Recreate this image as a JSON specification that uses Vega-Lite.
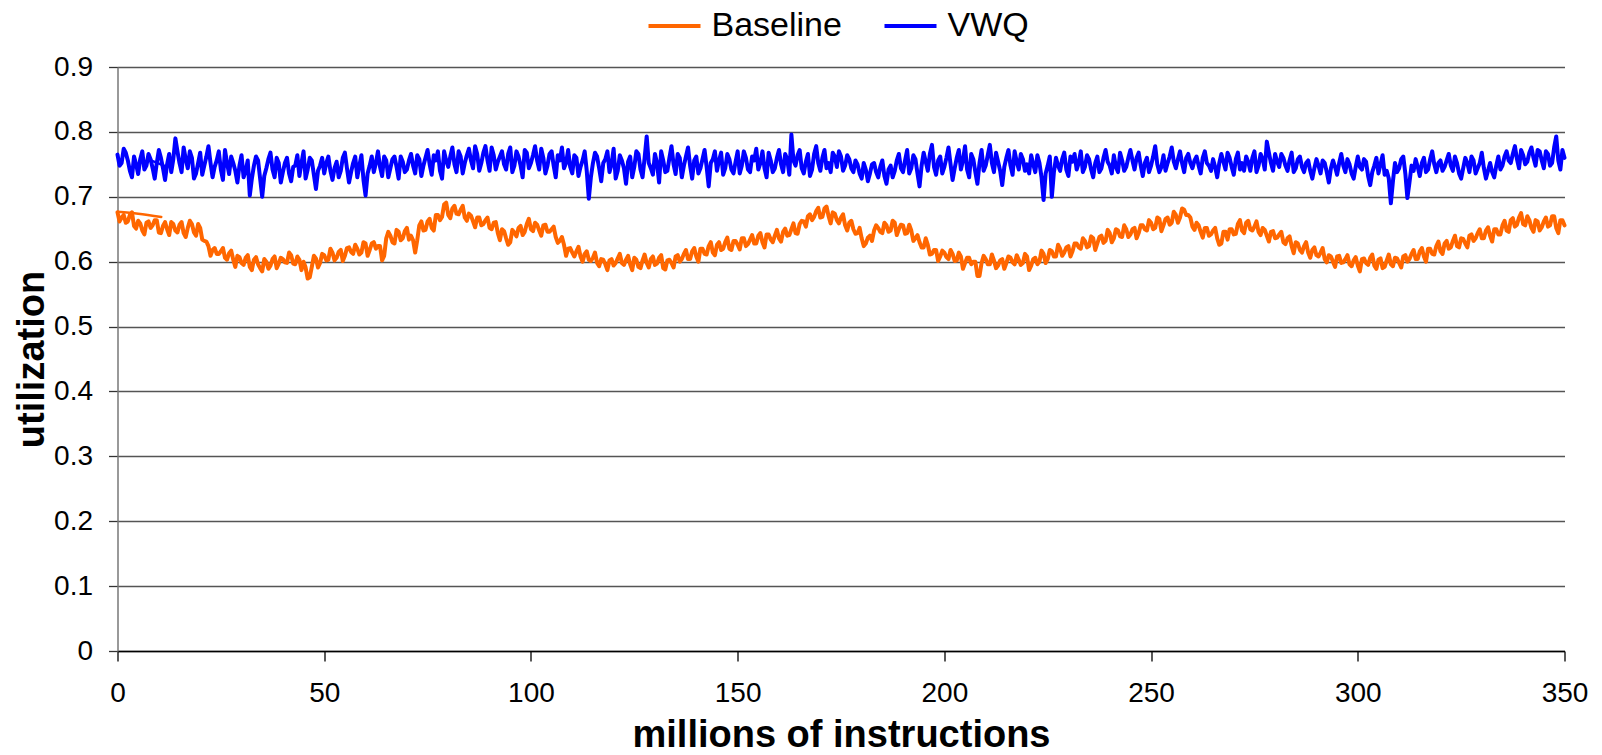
{
 "$schema": "https://vega.github.io/schema/vega-lite/v6.json",
 "width": 1447, "height": 584,
 "autosize": {"type": "none"},
 "padding": {"left": 117.5, "top": 67, "right": 37.5, "bottom": 104},
 "background": "white",
 "config": {"view": {"stroke": null}, "font": "Liberation Sans"},
 "encoding": {
  "x": {"field": "x", "type": "quantitative",
   "scale": {"domain": [0, 350], "nice": false},
   "axis": {"values": [0,50,100,150,200,250,300,350], "grid": false,
    "title": "millions of instructions", "titleFontSize": 38, "titleFontWeight": "bold", "titleColor": "#000", "titlePadding": 9,
    "labelFontSize": 28, "labelColor": "#000", "labelPadding": 18, "labelFlush": false,
    "tickSize": 10, "tickColor": "#000", "tickWidth": 1.3, "domainColor": "#000", "domainWidth": 1.5}},
  "y": {"field": "value", "type": "quantitative",
   "scale": {"domain": [0, 0.9], "nice": false, "zero": false},
   "axis": {"values": [0,0.1,0.2,0.3,0.4,0.5,0.6,0.7,0.8,0.9], "format": ".1~f",
    "grid": true, "gridColor": "#555", "gridWidth": 1.3,
    "domainColor": "#777", "domainWidth": 1.5, "tickColor": "#333", "tickSize": 9, "tickWidth": 1.3,
    "labelPadding": 16, "labelFontSize": 28, "labelColor": "#000",
    "title": "utilization", "titleFontSize": 38, "titleFontWeight": "bold", "titleColor": "#000", "titlePadding": 2}},
  "color": {"field": "series", "type": "nominal",
   "scale": {"domain": ["Baseline", "VWQ"], "range": ["#FF6600", "#0000FF"]},
   "legend": {"orient": "none", "legendX": 529, "legendY": -69, "direction": "horizontal", "title": null,
    "symbolType": "stroke", "symbolSize": 2704, "symbolStrokeWidth": 4,
    "labelFontSize": 34, "labelColor": "#000", "labelOffset": 9, "columnPadding": 34, "padding": 0}}
 },
 "layer": [
  {
   "data": {"values": [
{"x":0,"Baseline":0.676,"VWQ":0.765},{"x":1,"Baseline":0.668,"VWQ":0.752},{"x":2,"Baseline":0.660,"VWQ":0.768},{"x":3,"Baseline":0.672,"VWQ":0.740},{"x":4,"Baseline":0.655,"VWQ":0.762},{"x":5,"Baseline":0.663,"VWQ":0.735},{"x":6,"Baseline":0.648,"VWQ":0.770},{"x":7,"Baseline":0.660,"VWQ":0.748},{"x":8,"Baseline":0.652,"VWQ":0.758},{"x":9,"Baseline":0.664,"VWQ":0.728},
{"x":10,"Baseline":0.645,"VWQ":0.772},{"x":11,"Baseline":0.655,"VWQ":0.744},{"x":12,"Baseline":0.650,"VWQ":0.750},{"x":13,"Baseline":0.661,"VWQ":0.738},{"x":14,"Baseline":0.648,"VWQ":0.790},{"x":15,"Baseline":0.657,"VWQ":0.752},{"x":16,"Baseline":0.644,"VWQ":0.776},{"x":17,"Baseline":0.652,"VWQ":0.744},{"x":18,"Baseline":0.658,"VWQ":0.760},{"x":19,"Baseline":0.640,"VWQ":0.736},
{"x":20,"Baseline":0.652,"VWQ":0.768},{"x":21,"Baseline":0.632,"VWQ":0.748},{"x":22,"Baseline":0.624,"VWQ":0.778},{"x":23,"Baseline":0.618,"VWQ":0.730},{"x":24,"Baseline":0.612,"VWQ":0.756},{"x":25,"Baseline":0.616,"VWQ":0.742},{"x":26,"Baseline":0.606,"VWQ":0.772},{"x":27,"Baseline":0.613,"VWQ":0.735},{"x":28,"Baseline":0.603,"VWQ":0.752},{"x":29,"Baseline":0.609,"VWQ":0.722},
{"x":30,"Baseline":0.598,"VWQ":0.764},{"x":31,"Baseline":0.606,"VWQ":0.740},{"x":32,"Baseline":0.592,"VWQ":0.702},{"x":33,"Baseline":0.603,"VWQ":0.748},{"x":34,"Baseline":0.596,"VWQ":0.756},{"x":35,"Baseline":0.585,"VWQ":0.700},{"x":36,"Baseline":0.600,"VWQ":0.744},{"x":37,"Baseline":0.594,"VWQ":0.768},{"x":38,"Baseline":0.608,"VWQ":0.730},{"x":39,"Baseline":0.597,"VWQ":0.752},
{"x":40,"Baseline":0.604,"VWQ":0.738},{"x":41,"Baseline":0.598,"VWQ":0.760},{"x":42,"Baseline":0.610,"VWQ":0.724},{"x":43,"Baseline":0.596,"VWQ":0.748},{"x":44,"Baseline":0.603,"VWQ":0.732},{"x":45,"Baseline":0.600,"VWQ":0.770},{"x":46,"Baseline":0.574,"VWQ":0.742},{"x":47,"Baseline":0.592,"VWQ":0.756},{"x":48,"Baseline":0.605,"VWQ":0.712},{"x":49,"Baseline":0.598,"VWQ":0.748},
{"x":50,"Baseline":0.610,"VWQ":0.736},{"x":51,"Baseline":0.603,"VWQ":0.762},{"x":52,"Baseline":0.614,"VWQ":0.726},{"x":53,"Baseline":0.606,"VWQ":0.754},{"x":54,"Baseline":0.618,"VWQ":0.740},{"x":55,"Baseline":0.609,"VWQ":0.768},{"x":56,"Baseline":0.622,"VWQ":0.722},{"x":57,"Baseline":0.612,"VWQ":0.752},{"x":58,"Baseline":0.620,"VWQ":0.730},{"x":59,"Baseline":0.614,"VWQ":0.764},
{"x":60,"Baseline":0.628,"VWQ":0.702},{"x":61,"Baseline":0.618,"VWQ":0.748},{"x":62,"Baseline":0.630,"VWQ":0.738},{"x":63,"Baseline":0.624,"VWQ":0.770},{"x":64,"Baseline":0.602,"VWQ":0.732},{"x":65,"Baseline":0.636,"VWQ":0.756},{"x":66,"Baseline":0.640,"VWQ":0.744},{"x":67,"Baseline":0.628,"VWQ":0.762},{"x":68,"Baseline":0.646,"VWQ":0.728},{"x":69,"Baseline":0.636,"VWQ":0.754},
{"x":70,"Baseline":0.652,"VWQ":0.742},{"x":71,"Baseline":0.640,"VWQ":0.766},{"x":72,"Baseline":0.614,"VWQ":0.736},{"x":73,"Baseline":0.656,"VWQ":0.758},{"x":74,"Baseline":0.648,"VWQ":0.748},{"x":75,"Baseline":0.662,"VWQ":0.772},{"x":76,"Baseline":0.652,"VWQ":0.734},{"x":77,"Baseline":0.672,"VWQ":0.756},{"x":78,"Baseline":0.664,"VWQ":0.740},{"x":79,"Baseline":0.688,"VWQ":0.770},
{"x":80,"Baseline":0.672,"VWQ":0.746},{"x":81,"Baseline":0.682,"VWQ":0.776},{"x":82,"Baseline":0.674,"VWQ":0.738},{"x":83,"Baseline":0.680,"VWQ":0.762},{"x":84,"Baseline":0.668,"VWQ":0.752},{"x":85,"Baseline":0.674,"VWQ":0.774},{"x":86,"Baseline":0.662,"VWQ":0.744},{"x":87,"Baseline":0.668,"VWQ":0.766},{"x":88,"Baseline":0.656,"VWQ":0.752},{"x":89,"Baseline":0.664,"VWQ":0.778},
{"x":90,"Baseline":0.652,"VWQ":0.740},{"x":91,"Baseline":0.660,"VWQ":0.764},{"x":92,"Baseline":0.644,"VWQ":0.754},{"x":93,"Baseline":0.650,"VWQ":0.770},{"x":94,"Baseline":0.636,"VWQ":0.742},{"x":95,"Baseline":0.630,"VWQ":0.776},{"x":96,"Baseline":0.645,"VWQ":0.748},{"x":97,"Baseline":0.652,"VWQ":0.762},{"x":98,"Baseline":0.641,"VWQ":0.730},{"x":99,"Baseline":0.658,"VWQ":0.768},
{"x":100,"Baseline":0.650,"VWQ":0.752},{"x":101,"Baseline":0.660,"VWQ":0.778},{"x":102,"Baseline":0.648,"VWQ":0.742},{"x":103,"Baseline":0.656,"VWQ":0.760},{"x":104,"Baseline":0.646,"VWQ":0.748},{"x":105,"Baseline":0.650,"VWQ":0.770},{"x":106,"Baseline":0.638,"VWQ":0.730},{"x":107,"Baseline":0.632,"VWQ":0.756},{"x":108,"Baseline":0.626,"VWQ":0.744},{"x":109,"Baseline":0.620,"VWQ":0.772},
{"x":110,"Baseline":0.614,"VWQ":0.736},{"x":111,"Baseline":0.616,"VWQ":0.760},{"x":112,"Baseline":0.608,"VWQ":0.746},{"x":113,"Baseline":0.612,"VWQ":0.770},{"x":114,"Baseline":0.603,"VWQ":0.697},{"x":115,"Baseline":0.606,"VWQ":0.752},{"x":116,"Baseline":0.598,"VWQ":0.762},{"x":117,"Baseline":0.604,"VWQ":0.724},{"x":118,"Baseline":0.596,"VWQ":0.758},{"x":119,"Baseline":0.602,"VWQ":0.738},
{"x":120,"Baseline":0.594,"VWQ":0.774},{"x":121,"Baseline":0.605,"VWQ":0.740},{"x":122,"Baseline":0.598,"VWQ":0.756},{"x":123,"Baseline":0.603,"VWQ":0.720},{"x":124,"Baseline":0.596,"VWQ":0.762},{"x":125,"Baseline":0.606,"VWQ":0.746},{"x":126,"Baseline":0.592,"VWQ":0.766},{"x":127,"Baseline":0.602,"VWQ":0.730},{"x":128,"Baseline":0.598,"VWQ":0.793},{"x":129,"Baseline":0.604,"VWQ":0.744},
{"x":130,"Baseline":0.595,"VWQ":0.766},{"x":131,"Baseline":0.606,"VWQ":0.722},{"x":132,"Baseline":0.590,"VWQ":0.756},{"x":133,"Baseline":0.602,"VWQ":0.740},{"x":134,"Baseline":0.598,"VWQ":0.778},{"x":135,"Baseline":0.608,"VWQ":0.735},{"x":136,"Baseline":0.600,"VWQ":0.760},{"x":137,"Baseline":0.612,"VWQ":0.748},{"x":138,"Baseline":0.604,"VWQ":0.776},{"x":139,"Baseline":0.616,"VWQ":0.728},
{"x":140,"Baseline":0.608,"VWQ":0.762},{"x":141,"Baseline":0.620,"VWQ":0.744},{"x":142,"Baseline":0.612,"VWQ":0.772},{"x":143,"Baseline":0.624,"VWQ":0.716},{"x":144,"Baseline":0.614,"VWQ":0.758},{"x":145,"Baseline":0.626,"VWQ":0.740},{"x":146,"Baseline":0.618,"VWQ":0.768},{"x":147,"Baseline":0.630,"VWQ":0.744},{"x":148,"Baseline":0.620,"VWQ":0.758},{"x":149,"Baseline":0.632,"VWQ":0.736},
{"x":150,"Baseline":0.626,"VWQ":0.770},{"x":151,"Baseline":0.636,"VWQ":0.748},{"x":152,"Baseline":0.624,"VWQ":0.760},{"x":153,"Baseline":0.634,"VWQ":0.738},{"x":154,"Baseline":0.628,"VWQ":0.756},{"x":155,"Baseline":0.640,"VWQ":0.742},{"x":156,"Baseline":0.630,"VWQ":0.770},{"x":157,"Baseline":0.642,"VWQ":0.730},{"x":158,"Baseline":0.634,"VWQ":0.756},{"x":159,"Baseline":0.640,"VWQ":0.744},
{"x":160,"Baseline":0.636,"VWQ":0.772},{"x":161,"Baseline":0.646,"VWQ":0.738},{"x":162,"Baseline":0.640,"VWQ":0.758},{"x":163,"Baseline":0.650,"VWQ":0.796},{"x":164,"Baseline":0.644,"VWQ":0.748},{"x":165,"Baseline":0.658,"VWQ":0.772},{"x":166,"Baseline":0.662,"VWQ":0.736},{"x":167,"Baseline":0.670,"VWQ":0.766},{"x":168,"Baseline":0.664,"VWQ":0.742},{"x":169,"Baseline":0.678,"VWQ":0.778},
{"x":170,"Baseline":0.668,"VWQ":0.740},{"x":171,"Baseline":0.682,"VWQ":0.772},{"x":172,"Baseline":0.670,"VWQ":0.752},{"x":173,"Baseline":0.676,"VWQ":0.768},{"x":174,"Baseline":0.664,"VWQ":0.746},{"x":175,"Baseline":0.668,"VWQ":0.762},{"x":176,"Baseline":0.656,"VWQ":0.748},{"x":177,"Baseline":0.660,"VWQ":0.758},{"x":178,"Baseline":0.650,"VWQ":0.738},{"x":179,"Baseline":0.644,"VWQ":0.750},
{"x":180,"Baseline":0.636,"VWQ":0.728},{"x":181,"Baseline":0.628,"VWQ":0.742},{"x":182,"Baseline":0.640,"VWQ":0.736},{"x":183,"Baseline":0.648,"VWQ":0.752},{"x":184,"Baseline":0.652,"VWQ":0.730},{"x":185,"Baseline":0.644,"VWQ":0.756},{"x":186,"Baseline":0.656,"VWQ":0.720},{"x":187,"Baseline":0.648,"VWQ":0.748},{"x":188,"Baseline":0.660,"VWQ":0.740},{"x":189,"Baseline":0.650,"VWQ":0.766},
{"x":190,"Baseline":0.656,"VWQ":0.738},{"x":191,"Baseline":0.644,"VWQ":0.772},{"x":192,"Baseline":0.648,"VWQ":0.744},{"x":193,"Baseline":0.636,"VWQ":0.758},{"x":194,"Baseline":0.630,"VWQ":0.716},{"x":195,"Baseline":0.622,"VWQ":0.768},{"x":196,"Baseline":0.626,"VWQ":0.740},{"x":197,"Baseline":0.612,"VWQ":0.780},{"x":198,"Baseline":0.618,"VWQ":0.734},{"x":199,"Baseline":0.608,"VWQ":0.762},
{"x":200,"Baseline":0.614,"VWQ":0.746},{"x":201,"Baseline":0.604,"VWQ":0.776},{"x":202,"Baseline":0.612,"VWQ":0.726},{"x":203,"Baseline":0.602,"VWQ":0.760},{"x":204,"Baseline":0.608,"VWQ":0.742},{"x":205,"Baseline":0.598,"VWQ":0.778},{"x":206,"Baseline":0.606,"VWQ":0.730},{"x":207,"Baseline":0.600,"VWQ":0.758},{"x":208,"Baseline":0.578,"VWQ":0.720},{"x":209,"Baseline":0.598,"VWQ":0.772},
{"x":210,"Baseline":0.604,"VWQ":0.748},{"x":211,"Baseline":0.596,"VWQ":0.780},{"x":212,"Baseline":0.602,"VWQ":0.738},{"x":213,"Baseline":0.594,"VWQ":0.754},{"x":214,"Baseline":0.604,"VWQ":0.718},{"x":215,"Baseline":0.598,"VWQ":0.760},{"x":216,"Baseline":0.606,"VWQ":0.748},{"x":217,"Baseline":0.596,"VWQ":0.770},{"x":218,"Baseline":0.603,"VWQ":0.742},{"x":219,"Baseline":0.598,"VWQ":0.758},
{"x":220,"Baseline":0.608,"VWQ":0.750},{"x":221,"Baseline":0.594,"VWQ":0.764},{"x":222,"Baseline":0.606,"VWQ":0.738},{"x":223,"Baseline":0.600,"VWQ":0.752},{"x":224,"Baseline":0.612,"VWQ":0.695},{"x":225,"Baseline":0.604,"VWQ":0.748},{"x":226,"Baseline":0.616,"VWQ":0.700},{"x":227,"Baseline":0.608,"VWQ":0.760},{"x":228,"Baseline":0.620,"VWQ":0.740},{"x":229,"Baseline":0.614,"VWQ":0.768},
{"x":230,"Baseline":0.624,"VWQ":0.732},{"x":231,"Baseline":0.616,"VWQ":0.754},{"x":232,"Baseline":0.628,"VWQ":0.742},{"x":233,"Baseline":0.620,"VWQ":0.770},{"x":234,"Baseline":0.632,"VWQ":0.746},{"x":235,"Baseline":0.624,"VWQ":0.758},{"x":236,"Baseline":0.636,"VWQ":0.730},{"x":237,"Baseline":0.628,"VWQ":0.762},{"x":238,"Baseline":0.640,"VWQ":0.744},{"x":239,"Baseline":0.632,"VWQ":0.772},
{"x":240,"Baseline":0.644,"VWQ":0.748},{"x":241,"Baseline":0.636,"VWQ":0.764},{"x":242,"Baseline":0.648,"VWQ":0.738},{"x":243,"Baseline":0.638,"VWQ":0.756},{"x":244,"Baseline":0.650,"VWQ":0.746},{"x":245,"Baseline":0.642,"VWQ":0.772},{"x":246,"Baseline":0.652,"VWQ":0.742},{"x":247,"Baseline":0.644,"VWQ":0.768},{"x":248,"Baseline":0.656,"VWQ":0.732},{"x":249,"Baseline":0.648,"VWQ":0.760},
{"x":250,"Baseline":0.660,"VWQ":0.748},{"x":251,"Baseline":0.652,"VWQ":0.778},{"x":252,"Baseline":0.666,"VWQ":0.738},{"x":253,"Baseline":0.656,"VWQ":0.764},{"x":254,"Baseline":0.668,"VWQ":0.752},{"x":255,"Baseline":0.660,"VWQ":0.776},{"x":256,"Baseline":0.672,"VWQ":0.744},{"x":257,"Baseline":0.668,"VWQ":0.770},{"x":258,"Baseline":0.680,"VWQ":0.738},{"x":259,"Baseline":0.672,"VWQ":0.766},
{"x":260,"Baseline":0.654,"VWQ":0.744},{"x":261,"Baseline":0.660,"VWQ":0.762},{"x":262,"Baseline":0.646,"VWQ":0.736},{"x":263,"Baseline":0.652,"VWQ":0.770},{"x":264,"Baseline":0.640,"VWQ":0.748},{"x":265,"Baseline":0.648,"VWQ":0.758},{"x":266,"Baseline":0.636,"VWQ":0.730},{"x":267,"Baseline":0.628,"VWQ":0.766},{"x":268,"Baseline":0.646,"VWQ":0.742},{"x":269,"Baseline":0.650,"VWQ":0.760},
{"x":270,"Baseline":0.642,"VWQ":0.734},{"x":271,"Baseline":0.658,"VWQ":0.768},{"x":272,"Baseline":0.648,"VWQ":0.752},{"x":273,"Baseline":0.660,"VWQ":0.762},{"x":274,"Baseline":0.650,"VWQ":0.740},{"x":275,"Baseline":0.654,"VWQ":0.770},{"x":276,"Baseline":0.646,"VWQ":0.748},{"x":277,"Baseline":0.652,"VWQ":0.758},{"x":278,"Baseline":0.640,"VWQ":0.785},{"x":279,"Baseline":0.646,"VWQ":0.752},
{"x":280,"Baseline":0.636,"VWQ":0.766},{"x":281,"Baseline":0.642,"VWQ":0.746},{"x":282,"Baseline":0.630,"VWQ":0.760},{"x":283,"Baseline":0.636,"VWQ":0.740},{"x":284,"Baseline":0.624,"VWQ":0.768},{"x":285,"Baseline":0.630,"VWQ":0.744},{"x":286,"Baseline":0.618,"VWQ":0.762},{"x":287,"Baseline":0.624,"VWQ":0.738},{"x":288,"Baseline":0.614,"VWQ":0.756},{"x":289,"Baseline":0.618,"VWQ":0.728},
{"x":290,"Baseline":0.610,"VWQ":0.758},{"x":291,"Baseline":0.614,"VWQ":0.736},{"x":292,"Baseline":0.604,"VWQ":0.752},{"x":293,"Baseline":0.610,"VWQ":0.722},{"x":294,"Baseline":0.600,"VWQ":0.756},{"x":295,"Baseline":0.608,"VWQ":0.734},{"x":296,"Baseline":0.598,"VWQ":0.766},{"x":297,"Baseline":0.604,"VWQ":0.738},{"x":298,"Baseline":0.596,"VWQ":0.750},{"x":299,"Baseline":0.602,"VWQ":0.728},
{"x":300,"Baseline":0.594,"VWQ":0.762},{"x":301,"Baseline":0.604,"VWQ":0.742},{"x":302,"Baseline":0.598,"VWQ":0.754},{"x":303,"Baseline":0.606,"VWQ":0.718},{"x":304,"Baseline":0.594,"VWQ":0.748},{"x":305,"Baseline":0.603,"VWQ":0.736},{"x":306,"Baseline":0.590,"VWQ":0.764},{"x":307,"Baseline":0.602,"VWQ":0.740},{"x":308,"Baseline":0.596,"VWQ":0.690},{"x":309,"Baseline":0.606,"VWQ":0.752},
{"x":310,"Baseline":0.598,"VWQ":0.744},{"x":311,"Baseline":0.608,"VWQ":0.762},{"x":312,"Baseline":0.600,"VWQ":0.698},{"x":313,"Baseline":0.612,"VWQ":0.748},{"x":314,"Baseline":0.604,"VWQ":0.758},{"x":315,"Baseline":0.616,"VWQ":0.732},{"x":316,"Baseline":0.608,"VWQ":0.760},{"x":317,"Baseline":0.620,"VWQ":0.742},{"x":318,"Baseline":0.612,"VWQ":0.770},{"x":319,"Baseline":0.624,"VWQ":0.738},
{"x":320,"Baseline":0.616,"VWQ":0.756},{"x":321,"Baseline":0.628,"VWQ":0.746},{"x":322,"Baseline":0.620,"VWQ":0.766},{"x":323,"Baseline":0.632,"VWQ":0.740},{"x":324,"Baseline":0.624,"VWQ":0.752},{"x":325,"Baseline":0.636,"VWQ":0.728},{"x":326,"Baseline":0.628,"VWQ":0.760},{"x":327,"Baseline":0.640,"VWQ":0.738},{"x":328,"Baseline":0.632,"VWQ":0.756},{"x":329,"Baseline":0.644,"VWQ":0.744},
{"x":330,"Baseline":0.636,"VWQ":0.768},{"x":331,"Baseline":0.648,"VWQ":0.728},{"x":332,"Baseline":0.640,"VWQ":0.752},{"x":333,"Baseline":0.650,"VWQ":0.730},{"x":334,"Baseline":0.642,"VWQ":0.762},{"x":335,"Baseline":0.656,"VWQ":0.748},{"x":336,"Baseline":0.648,"VWQ":0.770},{"x":337,"Baseline":0.664,"VWQ":0.752},{"x":338,"Baseline":0.654,"VWQ":0.778},{"x":339,"Baseline":0.668,"VWQ":0.744},
{"x":340,"Baseline":0.658,"VWQ":0.764},{"x":341,"Baseline":0.670,"VWQ":0.754},{"x":342,"Baseline":0.652,"VWQ":0.776},{"x":343,"Baseline":0.664,"VWQ":0.748},{"x":344,"Baseline":0.648,"VWQ":0.770},{"x":345,"Baseline":0.662,"VWQ":0.744},{"x":346,"Baseline":0.654,"VWQ":0.766},{"x":347,"Baseline":0.670,"VWQ":0.752},{"x":348,"Baseline":0.652,"VWQ":0.793},{"x":349,"Baseline":0.664,"VWQ":0.742},
{"x":350,"Baseline":0.656,"VWQ":0.760},
{"x":0.5,"Baseline":0.662,"VWQ":0.748},{"x":1.5,"Baseline":0.672,"VWQ":0.774},{"x":2.5,"Baseline":0.662,"VWQ":0.756},{"x":3.5,"Baseline":0.676,"VWQ":0.730},{"x":4.5,"Baseline":0.651,"VWQ":0.750},{"x":5.5,"Baseline":0.659,"VWQ":0.758},{"x":6.5,"Baseline":0.642,"VWQ":0.742},{"x":7.5,"Baseline":0.662,"VWQ":0.766},{"x":8.5,"Baseline":0.656,"VWQ":0.744},{"x":9.5,"Baseline":0.664,"VWQ":0.752},
{"x":10.5,"Baseline":0.644,"VWQ":0.760},{"x":11.5,"Baseline":0.661,"VWQ":0.726},{"x":12.5,"Baseline":0.641,"VWQ":0.766},{"x":13.5,"Baseline":0.658,"VWQ":0.758},{"x":14.5,"Baseline":0.645,"VWQ":0.770},{"x":15.5,"Baseline":0.661,"VWQ":0.738},{"x":16.5,"Baseline":0.638,"VWQ":0.758},{"x":17.5,"Baseline":0.663,"VWQ":0.770},{"x":18.5,"Baseline":0.645,"VWQ":0.728},{"x":19.5,"Baseline":0.658,"VWQ":0.752},
{"x":20.5,"Baseline":0.634,"VWQ":0.734},{"x":21.5,"Baseline":0.631,"VWQ":0.762},{"x":22.5,"Baseline":0.609,"VWQ":0.752},{"x":23.5,"Baseline":0.621,"VWQ":0.746},{"x":24.5,"Baseline":0.612,"VWQ":0.770},{"x":25.5,"Baseline":0.621,"VWQ":0.726},{"x":26.5,"Baseline":0.603,"VWQ":0.752},{"x":27.5,"Baseline":0.617,"VWQ":0.762},{"x":28.5,"Baseline":0.592,"VWQ":0.740},{"x":29.5,"Baseline":0.607,"VWQ":0.748},
{"x":30.5,"Baseline":0.595,"VWQ":0.730},{"x":31.5,"Baseline":0.610,"VWQ":0.756},{"x":32.5,"Baseline":0.587,"VWQ":0.728},{"x":33.5,"Baseline":0.607,"VWQ":0.762},{"x":34.5,"Baseline":0.590,"VWQ":0.728},{"x":35.5,"Baseline":0.604,"VWQ":0.732},{"x":36.5,"Baseline":0.589,"VWQ":0.758},{"x":37.5,"Baseline":0.604,"VWQ":0.742},{"x":38.5,"Baseline":0.590,"VWQ":0.760},{"x":39.5,"Baseline":0.606,"VWQ":0.722},
{"x":40.5,"Baseline":0.599,"VWQ":0.752},{"x":41.5,"Baseline":0.614,"VWQ":0.736},{"x":42.5,"Baseline":0.597,"VWQ":0.746},{"x":43.5,"Baseline":0.608,"VWQ":0.764},{"x":44.5,"Baseline":0.587,"VWQ":0.752},{"x":45.5,"Baseline":0.591,"VWQ":0.728},{"x":46.5,"Baseline":0.576,"VWQ":0.760},{"x":47.5,"Baseline":0.609,"VWQ":0.734},{"x":48.5,"Baseline":0.591,"VWQ":0.740},{"x":49.5,"Baseline":0.612,"VWQ":0.760},
{"x":50.5,"Baseline":0.602,"VWQ":0.752},{"x":51.5,"Baseline":0.620,"VWQ":0.740},{"x":52.5,"Baseline":0.602,"VWQ":0.744},{"x":53.5,"Baseline":0.615,"VWQ":0.730},{"x":54.5,"Baseline":0.601,"VWQ":0.760},{"x":55.5,"Baseline":0.621,"VWQ":0.744},{"x":56.5,"Baseline":0.615,"VWQ":0.738},{"x":57.5,"Baseline":0.626,"VWQ":0.762},{"x":58.5,"Baseline":0.611,"VWQ":0.748},{"x":59.5,"Baseline":0.630,"VWQ":0.726},
{"x":60.5,"Baseline":0.609,"VWQ":0.736},{"x":61.5,"Baseline":0.628,"VWQ":0.762},{"x":62.5,"Baseline":0.620,"VWQ":0.752},{"x":63.5,"Baseline":0.624,"VWQ":0.746},{"x":64.5,"Baseline":0.609,"VWQ":0.762},{"x":65.5,"Baseline":0.646,"VWQ":0.730},{"x":66.5,"Baseline":0.630,"VWQ":0.758},{"x":67.5,"Baseline":0.649,"VWQ":0.746},{"x":68.5,"Baseline":0.633,"VWQ":0.762},{"x":69.5,"Baseline":0.647,"VWQ":0.738},
{"x":70.5,"Baseline":0.634,"VWQ":0.756},{"x":71.5,"Baseline":0.633,"VWQ":0.748},{"x":72.5,"Baseline":0.633,"VWQ":0.764},{"x":73.5,"Baseline":0.662,"VWQ":0.732},{"x":74.5,"Baseline":0.649,"VWQ":0.760},{"x":75.5,"Baseline":0.666,"VWQ":0.750},{"x":76.5,"Baseline":0.648,"VWQ":0.764},{"x":77.5,"Baseline":0.672,"VWQ":0.770},{"x":78.5,"Baseline":0.669,"VWQ":0.728},{"x":79.5,"Baseline":0.691,"VWQ":0.756},
{"x":80.5,"Baseline":0.667,"VWQ":0.762},{"x":81.5,"Baseline":0.686,"VWQ":0.750},{"x":82.5,"Baseline":0.673,"VWQ":0.770},{"x":83.5,"Baseline":0.686,"VWQ":0.736},{"x":84.5,"Baseline":0.663,"VWQ":0.764},{"x":85.5,"Baseline":0.671,"VWQ":0.756},{"x":86.5,"Baseline":0.653,"VWQ":0.778},{"x":87.5,"Baseline":0.668,"VWQ":0.740},{"x":88.5,"Baseline":0.658,"VWQ":0.768},{"x":89.5,"Baseline":0.668,"VWQ":0.756},
{"x":90.5,"Baseline":0.650,"VWQ":0.776},{"x":91.5,"Baseline":0.661,"VWQ":0.742},{"x":92.5,"Baseline":0.633,"VWQ":0.762},{"x":93.5,"Baseline":0.647,"VWQ":0.750},{"x":94.5,"Baseline":0.626,"VWQ":0.766},{"x":95.5,"Baseline":0.649,"VWQ":0.738},{"x":96.5,"Baseline":0.639,"VWQ":0.770},{"x":97.5,"Baseline":0.655,"VWQ":0.748},{"x":98.5,"Baseline":0.646,"VWQ":0.772},{"x":99.5,"Baseline":0.666,"VWQ":0.744},
{"x":100.5,"Baseline":0.647,"VWQ":0.764},{"x":101.5,"Baseline":0.657,"VWQ":0.756},{"x":102.5,"Baseline":0.640,"VWQ":0.774},{"x":103.5,"Baseline":0.657,"VWQ":0.736},{"x":104.5,"Baseline":0.646,"VWQ":0.766},{"x":105.5,"Baseline":0.654,"VWQ":0.748},{"x":106.5,"Baseline":0.629,"VWQ":0.764},{"x":107.5,"Baseline":0.638,"VWQ":0.776},{"x":108.5,"Baseline":0.609,"VWQ":0.752},{"x":109.5,"Baseline":0.621,"VWQ":0.746},
{"x":110.5,"Baseline":0.608,"VWQ":0.764},{"x":111.5,"Baseline":0.623,"VWQ":0.732},{"x":112.5,"Baseline":0.600,"VWQ":0.756},{"x":113.5,"Baseline":0.616,"VWQ":0.740},{"x":114.5,"Baseline":0.601,"VWQ":0.730},{"x":115.5,"Baseline":0.614,"VWQ":0.768},{"x":116.5,"Baseline":0.593,"VWQ":0.744},{"x":117.5,"Baseline":0.603,"VWQ":0.752},{"x":118.5,"Baseline":0.587,"VWQ":0.770},{"x":119.5,"Baseline":0.604,"VWQ":0.750},
{"x":120.5,"Baseline":0.598,"VWQ":0.728},{"x":121.5,"Baseline":0.612,"VWQ":0.764},{"x":122.5,"Baseline":0.595,"VWQ":0.744},{"x":123.5,"Baseline":0.609,"VWQ":0.754},{"x":124.5,"Baseline":0.587,"VWQ":0.730},{"x":125.5,"Baseline":0.603,"VWQ":0.770},{"x":126.5,"Baseline":0.590,"VWQ":0.742},{"x":127.5,"Baseline":0.611,"VWQ":0.760},{"x":128.5,"Baseline":0.591,"VWQ":0.752},{"x":129.5,"Baseline":0.608,"VWQ":0.734},
{"x":130.5,"Baseline":0.597,"VWQ":0.752},{"x":131.5,"Baseline":0.610,"VWQ":0.770},{"x":132.5,"Baseline":0.588,"VWQ":0.738},{"x":133.5,"Baseline":0.603,"VWQ":0.760},{"x":134.5,"Baseline":0.591,"VWQ":0.750},{"x":135.5,"Baseline":0.610,"VWQ":0.766},{"x":136.5,"Baseline":0.604,"VWQ":0.730},{"x":137.5,"Baseline":0.618,"VWQ":0.762},{"x":138.5,"Baseline":0.604,"VWQ":0.748},{"x":139.5,"Baseline":0.621,"VWQ":0.756},
{"x":140.5,"Baseline":0.600,"VWQ":0.736},{"x":141.5,"Baseline":0.620,"VWQ":0.758},{"x":142.5,"Baseline":0.611,"VWQ":0.746},{"x":143.5,"Baseline":0.630,"VWQ":0.752},{"x":144.5,"Baseline":0.610,"VWQ":0.770},{"x":145.5,"Baseline":0.630,"VWQ":0.756},{"x":146.5,"Baseline":0.620,"VWQ":0.734},{"x":147.5,"Baseline":0.637,"VWQ":0.766},{"x":148.5,"Baseline":0.618,"VWQ":0.742},{"x":149.5,"Baseline":0.632,"VWQ":0.754},
{"x":150.5,"Baseline":0.619,"VWQ":0.736},{"x":151.5,"Baseline":0.636,"VWQ":0.770},{"x":152.5,"Baseline":0.627,"VWQ":0.742},{"x":153.5,"Baseline":0.641,"VWQ":0.762},{"x":154.5,"Baseline":0.628,"VWQ":0.774},{"x":155.5,"Baseline":0.644,"VWQ":0.752},{"x":156.5,"Baseline":0.622,"VWQ":0.744},{"x":157.5,"Baseline":0.642,"VWQ":0.768},{"x":158.5,"Baseline":0.630,"VWQ":0.738},{"x":159.5,"Baseline":0.649,"VWQ":0.760},
{"x":160.5,"Baseline":0.631,"VWQ":0.750},{"x":161.5,"Baseline":0.651,"VWQ":0.766},{"x":162.5,"Baseline":0.641,"VWQ":0.734},{"x":163.5,"Baseline":0.659,"VWQ":0.756},{"x":164.5,"Baseline":0.643,"VWQ":0.764},{"x":165.5,"Baseline":0.663,"VWQ":0.744},{"x":166.5,"Baseline":0.654,"VWQ":0.754},{"x":167.5,"Baseline":0.673,"VWQ":0.732},{"x":168.5,"Baseline":0.669,"VWQ":0.766},{"x":169.5,"Baseline":0.683,"VWQ":0.752},
{"x":170.5,"Baseline":0.669,"VWQ":0.760},{"x":171.5,"Baseline":0.685,"VWQ":0.744},{"x":172.5,"Baseline":0.659,"VWQ":0.738},{"x":173.5,"Baseline":0.674,"VWQ":0.762},{"x":174.5,"Baseline":0.659,"VWQ":0.770},{"x":175.5,"Baseline":0.673,"VWQ":0.740},{"x":176.5,"Baseline":0.648,"VWQ":0.764},{"x":177.5,"Baseline":0.663,"VWQ":0.744},{"x":178.5,"Baseline":0.643,"VWQ":0.756},{"x":179.5,"Baseline":0.652,"VWQ":0.736},
{"x":180.5,"Baseline":0.624,"VWQ":0.752},{"x":181.5,"Baseline":0.637,"VWQ":0.724},{"x":182.5,"Baseline":0.632,"VWQ":0.750},{"x":183.5,"Baseline":0.656,"VWQ":0.738},{"x":184.5,"Baseline":0.646,"VWQ":0.746},{"x":185.5,"Baseline":0.660,"VWQ":0.732},{"x":186.5,"Baseline":0.646,"VWQ":0.742},{"x":187.5,"Baseline":0.663,"VWQ":0.730},{"x":188.5,"Baseline":0.641,"VWQ":0.756},{"x":189.5,"Baseline":0.657,"VWQ":0.744},
{"x":190.5,"Baseline":0.643,"VWQ":0.756},{"x":191.5,"Baseline":0.657,"VWQ":0.736},{"x":192.5,"Baseline":0.632,"VWQ":0.764},{"x":193.5,"Baseline":0.641,"VWQ":0.736},{"x":194.5,"Baseline":0.622,"VWQ":0.748},{"x":195.5,"Baseline":0.636,"VWQ":0.754},{"x":196.5,"Baseline":0.611,"VWQ":0.766},{"x":197.5,"Baseline":0.618,"VWQ":0.746},{"x":198.5,"Baseline":0.601,"VWQ":0.756},{"x":199.5,"Baseline":0.617,"VWQ":0.736},
{"x":200.5,"Baseline":0.607,"VWQ":0.760},{"x":201.5,"Baseline":0.618,"VWQ":0.750},{"x":202.5,"Baseline":0.601,"VWQ":0.744},{"x":203.5,"Baseline":0.614,"VWQ":0.772},{"x":204.5,"Baseline":0.589,"VWQ":0.756},{"x":205.5,"Baseline":0.606,"VWQ":0.742},{"x":206.5,"Baseline":0.596,"VWQ":0.766},{"x":207.5,"Baseline":0.600,"VWQ":0.738},{"x":208.5,"Baseline":0.578,"VWQ":0.752},{"x":209.5,"Baseline":0.609,"VWQ":0.740},
{"x":210.5,"Baseline":0.596,"VWQ":0.764},{"x":211.5,"Baseline":0.611,"VWQ":0.752},{"x":212.5,"Baseline":0.590,"VWQ":0.768},{"x":213.5,"Baseline":0.602,"VWQ":0.740},{"x":214.5,"Baseline":0.589,"VWQ":0.746},{"x":215.5,"Baseline":0.608,"VWQ":0.772},{"x":216.5,"Baseline":0.599,"VWQ":0.734},{"x":217.5,"Baseline":0.610,"VWQ":0.754},{"x":218.5,"Baseline":0.595,"VWQ":0.766},{"x":219.5,"Baseline":0.612,"VWQ":0.740},
{"x":220.5,"Baseline":0.587,"VWQ":0.736},{"x":221.5,"Baseline":0.604,"VWQ":0.750},{"x":222.5,"Baseline":0.596,"VWQ":0.764},{"x":223.5,"Baseline":0.617,"VWQ":0.730},{"x":224.5,"Baseline":0.598,"VWQ":0.736},{"x":225.5,"Baseline":0.618,"VWQ":0.762},{"x":226.5,"Baseline":0.608,"VWQ":0.738},{"x":227.5,"Baseline":0.626,"VWQ":0.748},{"x":228.5,"Baseline":0.609,"VWQ":0.758},{"x":229.5,"Baseline":0.622,"VWQ":0.742},
{"x":230.5,"Baseline":0.608,"VWQ":0.762},{"x":231.5,"Baseline":0.628,"VWQ":0.766},{"x":232.5,"Baseline":0.622,"VWQ":0.752},{"x":233.5,"Baseline":0.636,"VWQ":0.738},{"x":234.5,"Baseline":0.622,"VWQ":0.764},{"x":235.5,"Baseline":0.639,"VWQ":0.742},{"x":236.5,"Baseline":0.618,"VWQ":0.752},{"x":237.5,"Baseline":0.638,"VWQ":0.738},{"x":238.5,"Baseline":0.629,"VWQ":0.760},{"x":239.5,"Baseline":0.649,"VWQ":0.754},
{"x":240.5,"Baseline":0.630,"VWQ":0.736},{"x":241.5,"Baseline":0.650,"VWQ":0.746},{"x":242.5,"Baseline":0.639,"VWQ":0.768},{"x":243.5,"Baseline":0.656,"VWQ":0.740},{"x":244.5,"Baseline":0.638,"VWQ":0.760},{"x":245.5,"Baseline":0.650,"VWQ":0.756},{"x":246.5,"Baseline":0.636,"VWQ":0.760},{"x":247.5,"Baseline":0.656,"VWQ":0.748},{"x":248.5,"Baseline":0.650,"VWQ":0.752},{"x":249.5,"Baseline":0.664,"VWQ":0.738},
{"x":250.5,"Baseline":0.650,"VWQ":0.762},{"x":251.5,"Baseline":0.668,"VWQ":0.750},{"x":252.5,"Baseline":0.647,"VWQ":0.746},{"x":253.5,"Baseline":0.666,"VWQ":0.740},{"x":254.5,"Baseline":0.657,"VWQ":0.762},{"x":255.5,"Baseline":0.677,"VWQ":0.754},{"x":256.5,"Baseline":0.660,"VWQ":0.758},{"x":257.5,"Baseline":0.682,"VWQ":0.752},{"x":258.5,"Baseline":0.672,"VWQ":0.760},{"x":259.5,"Baseline":0.668,"VWQ":0.752},
{"x":260.5,"Baseline":0.649,"VWQ":0.756},{"x":261.5,"Baseline":0.656,"VWQ":0.748},{"x":262.5,"Baseline":0.637,"VWQ":0.760},{"x":263.5,"Baseline":0.652,"VWQ":0.752},{"x":264.5,"Baseline":0.642,"VWQ":0.740},{"x":265.5,"Baseline":0.652,"VWQ":0.746},{"x":266.5,"Baseline":0.626,"VWQ":0.752},{"x":267.5,"Baseline":0.646,"VWQ":0.754},{"x":268.5,"Baseline":0.634,"VWQ":0.768},{"x":269.5,"Baseline":0.650,"VWQ":0.746},
{"x":270.5,"Baseline":0.643,"VWQ":0.758},{"x":271.5,"Baseline":0.664,"VWQ":0.742},{"x":272.5,"Baseline":0.644,"VWQ":0.740},{"x":273.5,"Baseline":0.663,"VWQ":0.754},{"x":274.5,"Baseline":0.648,"VWQ":0.760},{"x":275.5,"Baseline":0.662,"VWQ":0.738},{"x":276.5,"Baseline":0.641,"VWQ":0.766},{"x":277.5,"Baseline":0.649,"VWQ":0.742},{"x":278.5,"Baseline":0.631,"VWQ":0.768},{"x":279.5,"Baseline":0.647,"VWQ":0.740},
{"x":280.5,"Baseline":0.637,"VWQ":0.754},{"x":281.5,"Baseline":0.646,"VWQ":0.766},{"x":282.5,"Baseline":0.627,"VWQ":0.748},{"x":283.5,"Baseline":0.639,"VWQ":0.756},{"x":284.5,"Baseline":0.613,"VWQ":0.738},{"x":285.5,"Baseline":0.628,"VWQ":0.758},{"x":286.5,"Baseline":0.614,"VWQ":0.746},{"x":287.5,"Baseline":0.630,"VWQ":0.752},{"x":288.5,"Baseline":0.606,"VWQ":0.740},{"x":289.5,"Baseline":0.622,"VWQ":0.744},
{"x":290.5,"Baseline":0.608,"VWQ":0.748},{"x":291.5,"Baseline":0.621,"VWQ":0.756},{"x":292.5,"Baseline":0.599,"VWQ":0.738},{"x":293.5,"Baseline":0.608,"VWQ":0.744},{"x":294.5,"Baseline":0.592,"VWQ":0.746},{"x":295.5,"Baseline":0.609,"VWQ":0.752},{"x":296.5,"Baseline":0.599,"VWQ":0.748},{"x":297.5,"Baseline":0.610,"VWQ":0.758},{"x":298.5,"Baseline":0.593,"VWQ":0.736},{"x":299.5,"Baseline":0.607,"VWQ":0.746},
{"x":300.5,"Baseline":0.585,"VWQ":0.746},{"x":301.5,"Baseline":0.605,"VWQ":0.758},{"x":302.5,"Baseline":0.595,"VWQ":0.732},{"x":303.5,"Baseline":0.611,"VWQ":0.738},{"x":304.5,"Baseline":0.589,"VWQ":0.760},{"x":305.5,"Baseline":0.605,"VWQ":0.750},{"x":306.5,"Baseline":0.592,"VWQ":0.734},{"x":307.5,"Baseline":0.611,"VWQ":0.728},{"x":308.5,"Baseline":0.593,"VWQ":0.724},{"x":309.5,"Baseline":0.605,"VWQ":0.738},
{"x":310.5,"Baseline":0.591,"VWQ":0.758},{"x":311.5,"Baseline":0.610,"VWQ":0.736},{"x":312.5,"Baseline":0.604,"VWQ":0.722},{"x":313.5,"Baseline":0.618,"VWQ":0.740},{"x":314.5,"Baseline":0.604,"VWQ":0.746},{"x":315.5,"Baseline":0.621,"VWQ":0.752},{"x":316.5,"Baseline":0.600,"VWQ":0.738},{"x":317.5,"Baseline":0.620,"VWQ":0.758},{"x":318.5,"Baseline":0.611,"VWQ":0.750},{"x":319.5,"Baseline":0.631,"VWQ":0.752},
{"x":320.5,"Baseline":0.612,"VWQ":0.740},{"x":321.5,"Baseline":0.632,"VWQ":0.756},{"x":322.5,"Baseline":0.622,"VWQ":0.748},{"x":323.5,"Baseline":0.640,"VWQ":0.762},{"x":324.5,"Baseline":0.622,"VWQ":0.736},{"x":325.5,"Baseline":0.635,"VWQ":0.744},{"x":326.5,"Baseline":0.622,"VWQ":0.752},{"x":327.5,"Baseline":0.642,"VWQ":0.762},{"x":328.5,"Baseline":0.636,"VWQ":0.736},{"x":329.5,"Baseline":0.650,"VWQ":0.752},
{"x":330.5,"Baseline":0.636,"VWQ":0.744},{"x":331.5,"Baseline":0.653,"VWQ":0.740},{"x":332.5,"Baseline":0.631,"VWQ":0.738},{"x":333.5,"Baseline":0.650,"VWQ":0.748},{"x":334.5,"Baseline":0.642,"VWQ":0.742},{"x":335.5,"Baseline":0.663,"VWQ":0.762},{"x":336.5,"Baseline":0.646,"VWQ":0.756},{"x":337.5,"Baseline":0.667,"VWQ":0.766},{"x":338.5,"Baseline":0.657,"VWQ":0.758},{"x":339.5,"Baseline":0.675,"VWQ":0.772},
{"x":340.5,"Baseline":0.656,"VWQ":0.750},{"x":341.5,"Baseline":0.664,"VWQ":0.768},{"x":342.5,"Baseline":0.646,"VWQ":0.760},{"x":343.5,"Baseline":0.662,"VWQ":0.772},{"x":344.5,"Baseline":0.653,"VWQ":0.756},{"x":345.5,"Baseline":0.668,"VWQ":0.770},{"x":346.5,"Baseline":0.656,"VWQ":0.748},{"x":347.5,"Baseline":0.670,"VWQ":0.776},{"x":348.5,"Baseline":0.644,"VWQ":0.756},{"x":349.5,"Baseline":0.664,"VWQ":0.772}
   ]},
   "transform": [{"fold": ["Baseline", "VWQ"], "as": ["series", "value"]}],
   "mark": {"type": "line", "strokeWidth": 4, "strokeJoin": "round", "strokeCap": "round"}
  },
  {
   "data": {"values": [
    {"x": 0, "value": 0.677, "series": "Baseline"},
    {"x": 5, "value": 0.674, "series": "Baseline"},
    {"x": 10.6, "value": 0.669, "series": "Baseline"},
    {"x": 7.8, "value": 0.757, "series": "VWQ"},
    {"x": 11.8, "value": 0.7465, "series": "VWQ"}
   ]},
   "mark": {"type": "line", "strokeWidth": 2.5, "strokeCap": "round", "interpolate": "monotone"}
  }
 ]
}
